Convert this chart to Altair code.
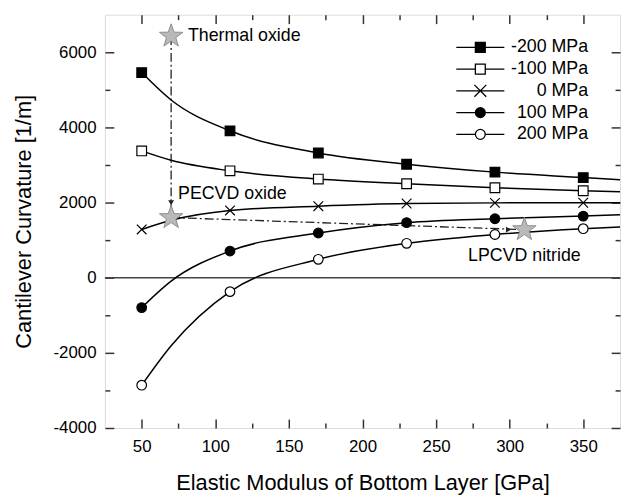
import altair as alt
import pandas as pd

# ---------------- data ----------------
series = ["-200 MPa", "-100 MPa", "0 MPa", "100 MPa", "200 MPa"]
x_markers = [50, 110, 170, 230, 290, 350]
y_m200 = [5460, 3910, 3320, 3020, 2810, 2665]
y_m100 = [3375, 2845, 2625, 2500, 2395, 2315]
y_0 = [1285, 1790, 1905, 1975, 1992, 1995]
y_p100 = [-795, 710, 1190, 1465, 1570, 1640]
y_p200 = [-2860, -370, 490, 915, 1150, 1305]

# additional points (between markers / at right edge)
x_curve_extra = [70, 375]
c_m200 = [4730, 2605]
c_m100 = [3125, 2290]
c_0 = [1530, 1995]
c_p100 = [-90, 1675]
c_p200 = [-1810, 1350]

star_names = ["Thermal oxide", "PECVD oxide", "LPCVD nitride"]
star_x = [70, 70, 310]
star_y = [6430, 1600, 1280]

x_major = [50, 100, 150, 200, 250, 300, 350]
x_minor = [75, 125, 175, 225, 275, 325]
y_major = [-4000, -2000, 0, 2000, 4000, 6000]
y_minor = [-3000, -1000, 1000, 3000, 5000]

# ---------------- tables ----------------
marker_vals = [y_m200, y_m100, y_0, y_p100, y_p200]
curve_vals = [c_m200, c_m100, c_0, c_p100, c_p200]
rows, crow = [], []
for s, ys, cs in zip(series, marker_vals, curve_vals):
    for xv, yv in zip(x_markers, ys):
        rows.append({"series": s, "x": xv, "y": yv})
        crow.append({"series": s, "x": xv, "y": yv})
    for xv, yv in zip(x_curve_extra, cs):
        crow.append({"series": s, "x": xv, "y": yv})
marker_df = pd.DataFrame(rows)
curve_df = pd.DataFrame(crow)
star_df = pd.DataFrame({"name": star_names, "x": star_x, "y": star_y})
seg_df = pd.DataFrame({
    "x": [star_x[0], star_x[1]], "y": [star_y[0], star_y[1]],
    "x2": [star_x[1], star_x[2]], "y2": [star_y[1], star_y[2]],
})

W, H = 521, 418
FONT = "Liberation Sans"
xscale = alt.Scale(domain=[25, 375], nice=False, zero=False)
yscale = alt.Scale(domain=[-4000, 7000], nice=False, zero=False)

STAR = ("M0,-1L0.235,-0.324L0.951,-0.309L0.38,0.124L0.588,0.809L0,0.4"
        "L-0.588,0.809L-0.38,0.124L-0.951,-0.309L-0.235,-0.324Z")


def tick_axis(orient, offset, size, values):
    return alt.Axis(orient=orient, offset=offset, tickSize=size, values=values,
                    labels=False, domain=False, grid=False, ticks=True,
                    tickColor="#333", tickWidth=1.5, title=None)


ax_bottom = alt.Axis(orient="bottom", offset=-9, tickSize=9, values=x_major,
                     domain=False, grid=False, tickColor="#333", tickWidth=1.5,
                     labelFontSize=17, labelPadding=11, labelColor="black", labelFont=FONT,
                     title="Elastic Modulus of Bottom Layer [GPa]", titleFont=FONT,
                     titleFontSize=22, titleFontWeight="normal", titleColor="black",
                     titleBaseline="alphabetic", titleY=71)
ax_left = alt.Axis(orient="left", offset=-9, tickSize=9, values=y_major,
                   domain=False, grid=False, tickColor="#333", tickWidth=1.5,
                   labelFontSize=17, labelPadding=9, labelColor="black", labelFont=FONT,
                   labelExpr="'' + datum.value",
                   title="Cantilever Curvature [1/m]", titleFont=FONT,
                   titleFontSize=22, titleFontWeight="normal", titleColor="black",
                   titleBaseline="alphabetic", titleAngle=270, titleX=-84, titleY=H / 2)

zero = alt.Chart(pd.DataFrame({"y": [0]})).mark_rule(color="#444", strokeWidth=1.5).encode(
    y=alt.Y("y:Q", scale=yscale, axis=None))

segs = alt.Chart(seg_df).mark_rule(color="#222", strokeWidth=1.3, strokeDash=[9, 3, 2, 3]).encode(
    x=alt.X("x:Q", scale=xscale, axis=None),
    y=alt.Y("y:Q", scale=yscale, axis=None),
    x2="x2:Q", y2="y2:Q")

lines = alt.Chart(curve_df).mark_line(interpolate="monotone", color="black", strokeWidth=1.5).encode(
    x=alt.X("x:Q", scale=xscale, axis=ax_bottom),
    y=alt.Y("y:Q", scale=yscale, axis=ax_left),
    detail="series:N")

marker_shapes = ["square", "square", "M-1,-1L1,1M-1,1L1,-1", "circle", "circle"]
marker_fills = ["black", "white", "transparent", "black", "white"]
points = alt.Chart(marker_df).mark_point(size=95, stroke="black", strokeWidth=1.2, opacity=1).encode(
    x=alt.X("x:Q", scale=xscale, axis=tick_axis("bottom", -5, 5, x_minor)),
    y=alt.Y("y:Q", scale=yscale, axis=tick_axis("left", -5, 5, y_minor)),
    shape=alt.Shape("series:N", scale=alt.Scale(domain=series, range=marker_shapes), legend=None),
    fill=alt.Fill("series:N", scale=alt.Scale(domain=series, range=marker_fills), legend=None))

# legend symbols: line segment + marker (filled markers drawn with dense strokes)
SEG = "M-4.86,0L-1,0M1,0L4.86,0"
SQ = "M-1,-1L1,-1L1,1L-1,1Z"
SQ_FILL = "".join(f"M-1,{v}L1,{v}" for v in ("-0.75", "-0.5", "-0.25", "0", "0.25", "0.5", "0.75"))
CI = "M-1,0A1,1,0,1,0,1,0A1,1,0,1,0,-1,0Z"
CI_FILL = ("M-0.48,-0.875L0.48,-0.875M-0.66,-0.75L0.66,-0.75M-0.78,-0.625L0.78,-0.625"
           "M-0.87,-0.5L0.87,-0.5M-0.93,-0.375L0.93,-0.375M-0.97,-0.25L0.97,-0.25"
           "M-0.99,-0.125L0.99,-0.125M-1,0L1,0M-0.99,0.125L0.99,0.125M-0.97,0.25L0.97,0.25"
           "M-0.93,0.375L0.93,0.375M-0.87,0.5L0.87,0.5M-0.78,0.625L0.78,0.625"
           "M-0.66,0.75L0.66,0.75M-0.48,0.875L0.48,0.875")
legend_shapes = [
    SEG + SQ + SQ_FILL,
    SEG + SQ,
    "M-4.86,0L4.86,0M-1.2,-1.2L1.2,1.2M-1.2,1.2L1.2,-1.2",
    SEG + CI + CI_FILL,
    SEG + CI,
]
leg = alt.Legend(title=None, orient="none", legendX=370.7, legendY=24, padding=0,
                 symbolSize=100, symbolStrokeWidth=1.3, symbolStrokeColor="black",
                 symbolFillColor="transparent", symbolOpacity=1,
                 labelFontSize=18, labelFont=FONT, labelColor="black", labelAlign="right",
                 labelOffset=100, rowPadding=4)
legend_layer = alt.Chart(marker_df).mark_point(opacity=0, stroke="black", strokeWidth=1.3).encode(
    x=alt.X("x:Q", scale=xscale, axis=tick_axis("top", -9, 9, x_major)),
    y=alt.Y("y:Q", scale=yscale, axis=tick_axis("right", -9, 9, y_major)),
    shape=alt.Shape("series:N", scale=alt.Scale(domain=series, range=legend_shapes), legend=leg))

stars = alt.Chart(star_df).mark_point(shape=STAR, size=620, filled=True, fill="#b9b9b9",
                                      stroke="#8e8e8e", strokeWidth=1, opacity=1).encode(
    x=alt.X("x:Q", scale=xscale, axis=tick_axis("top", -5, 5, x_minor)),
    y=alt.Y("y:Q", scale=yscale, axis=tick_axis("right", -5, 5, y_minor)))

arrow_down = alt.Chart(star_df).transform_filter(alt.datum.name == "PECVD oxide").mark_point(
    shape="triangle-down", filled=True, color="#222", size=35, opacity=1, yOffset=-15).encode(
    x=alt.X("x:Q", scale=xscale, axis=None), y=alt.Y("y:Q", scale=yscale, axis=None))
arrow_right = alt.Chart(star_df).transform_filter(alt.datum.name == "LPCVD nitride").mark_point(
    shape="triangle-right", filled=True, color="#222", size=35, opacity=1, xOffset=-16).encode(
    x=alt.X("x:Q", scale=xscale, axis=None), y=alt.Y("y:Q", scale=yscale, axis=None))


def label(name, align, dx, dy):
    return alt.Chart(star_df).transform_filter(alt.datum.name == name).mark_text(
        align=align, baseline="middle", dx=dx, dy=dy, fontSize=18, font=FONT, color="black").encode(
        x=alt.X("x:Q", scale=xscale, axis=None), y=alt.Y("y:Q", scale=yscale, axis=None),
        text="name:N")


texts = [label("Thermal oxide", "left", 17, 0),
         label("PECVD oxide", "left", 7, -24),
         label("LPCVD nitride", "center", 0, 27)]

chart = alt.layer(zero, segs, lines, points, legend_layer, stars, arrow_down, arrow_right, *texts).resolve_scale(
    shape="independent", fill="independent").resolve_axis(x="independent", y="independent").properties(
    width=W, height=H, autosize=alt.AutoSizeParams(type="none"),
    padding={"left": 98, "top": 4, "right": 3, "bottom": 67}).configure_view(
    stroke="#333", strokeWidth=2).configure(background="white")

chart.save("out.html", embed_options={"renderer": "svg", "actions": False})
